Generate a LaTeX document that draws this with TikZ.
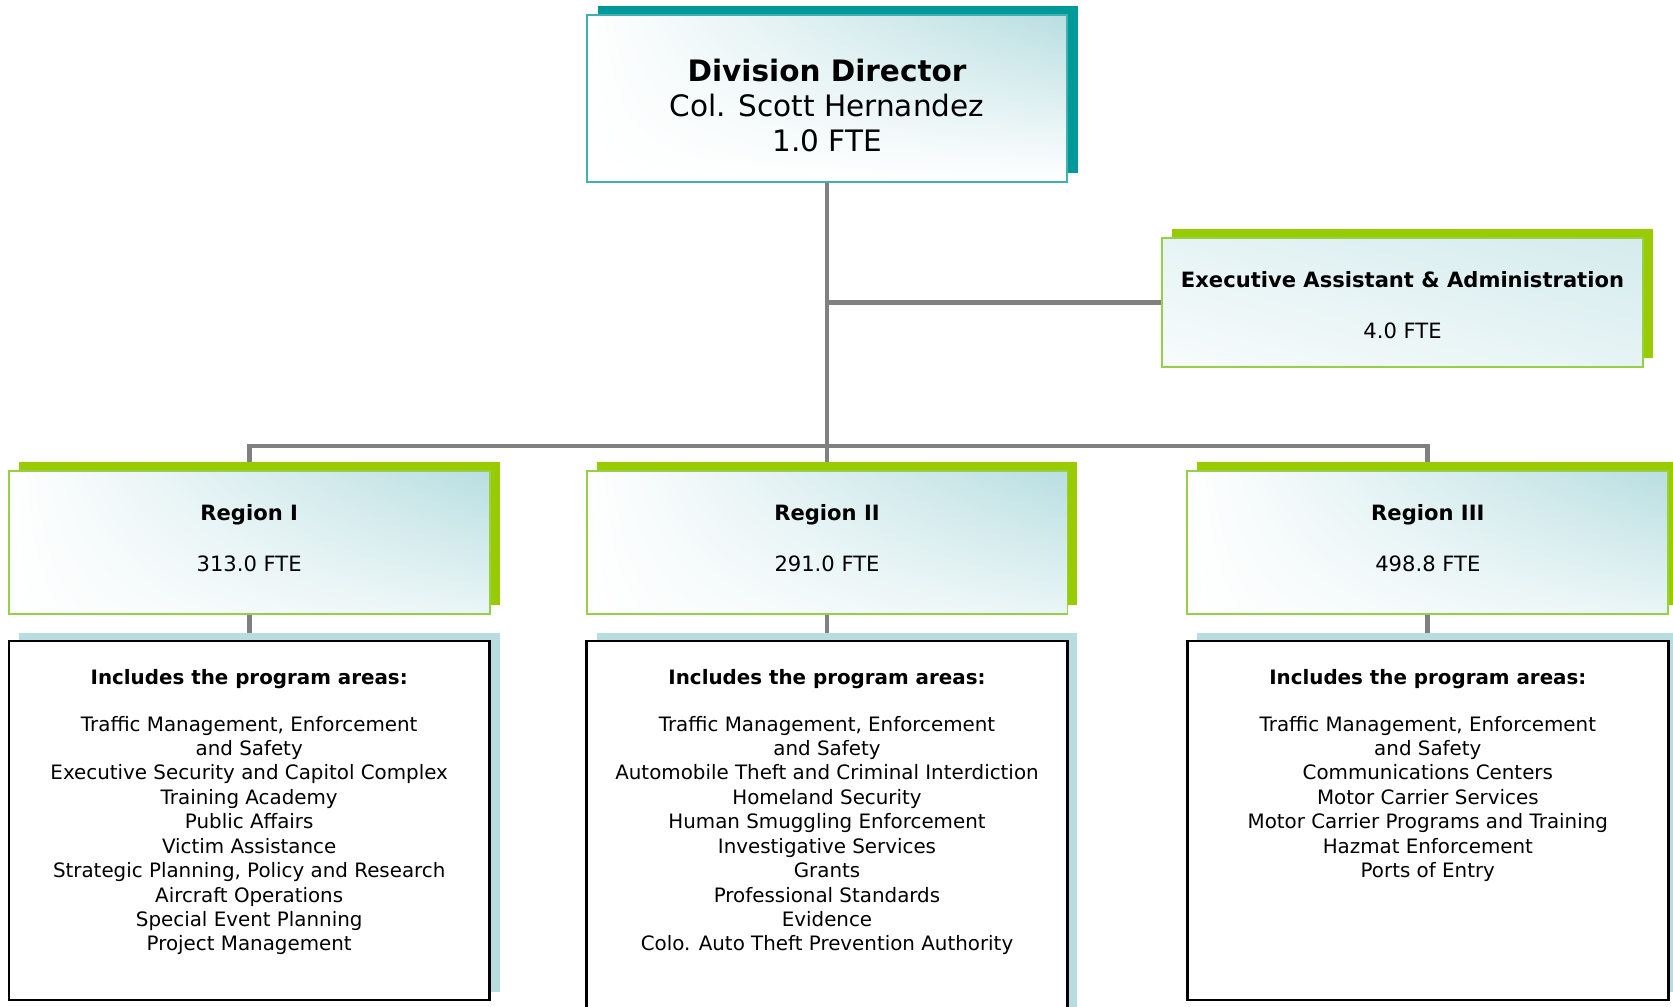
\documentclass[tikz,border=0pt]{standalone}
\usepackage{fontspec}
\setmainfont{DejaVu Sans}
\usepackage{xcolor}
\usetikzlibrary{positioning,shadows,shadings,backgrounds}

\definecolor{darkteal}{RGB}{0,153,153}
\definecolor{lightteal}{RGB}{64,176,176}
\definecolor{palecyan}{RGB}{184,222,225}
\definecolor{limegreen}{RGB}{153,204,0}
\definecolor{softgreen}{RGB}{150,208,70}
\definecolor{paleblue}{RGB}{184,221,224}
\definecolor{linegray}{RGB}{128,128,128}

\newcommand{\lowstrut}{\rule[-5pt]{0pt}{5pt}}

\begin{document}
\begin{tikzpicture}[
    x=0.02cm, y=-0.02cm,
    node distance=1cm,
    tealshadow/.style={general shadow={shadow xshift=0.22cm, shadow yshift=0.18cm, fill=darkteal}},
    greenshadow/.style={general shadow={shadow xshift=0.2cm, shadow yshift=0.18cm, fill=limegreen}},
    blueshadow/.style={general shadow={shadow xshift=0.2cm, shadow yshift=0.16cm, fill=paleblue}},
    director/.style={rectangle, draw=lightteal, line width=1.1pt, tealshadow,
        upper left=white, upper right=palecyan, lower left=white, lower right=white,
        minimum width=9.6cm, minimum height=3.34cm, align=center, font=\fontsize{16.8}{20}\selectfont},
    regionbox/.style={rectangle, draw=softgreen, line width=1.1pt, greenshadow,
        upper left=white, upper right=palecyan, lower left=white, lower right=palecyan!30,
        minimum width=9.62cm, minimum height=2.86cm, align=center, font=\fontsize{12}{14.4}\selectfont},
    execbox/.style={regionbox, upper left=palecyan!35, upper right=palecyan!60, lower left=palecyan!10, lower right=palecyan!35,
        minimum height=2.58cm},
    areabox/.style={rectangle, draw=black, line width=1.4pt, fill=white, blueshadow,
        minimum width=9.62cm, minimum height=7.18cm},
    areatext/.style={align=center, inner sep=0pt, font=\fontsize{11.3}{13.9}\selectfont},
    conn/.style={draw=linegray, line width=2.8pt}
]
\useasboundingbox (0,0) rectangle (1673,1007);

% Top level
\node[director] (dir) at (827,98.5) {\rule{0pt}{21pt}\textbf{Division Director}\\Col. Scott Hernandez\\1.0 FTE};
\node[execbox] (exec) at (1402.5,302.5) {\rule{0pt}{12pt}\textbf{Executive Assistant \& Administration}\\[14.5pt]4.0 FTE};

% Regions
\node[regionbox] (r2) at (827,542.5) {\textbf{Region II}\\[14.5pt]291.0 FTE\lowstrut};
\node[regionbox, left=1.9cm of r2] (r1) {\textbf{Region I}\\[14.5pt]313.0 FTE\lowstrut};
\node[regionbox, right=2.36cm of r2] (r3) {\textbf{Region III}\\[14.5pt]498.8 FTE\lowstrut};

% Program areas
\node[areabox, below=0.5cm of r1] (p1) {};
\node[areabox, below=0.5cm of r2, minimum height=7.6cm] (p2) {};
\node[areabox, below=0.5cm of r3] (p3) {};

\node[areatext, below=0.58cm of p1.north] (t1) {\textbf{Includes the program areas:}\\[12.7pt]
    Traffic Management, Enforcement\\and Safety\\Executive Security and Capitol Complex\\Training Academy\\
    Public Affairs\\Victim Assistance\\Strategic Planning, Policy and Research\\Aircraft Operations\\
    Special Event Planning\\Project Management};
\node[areatext, below=0.58cm of p2.north] (t2) {\textbf{Includes the program areas:}\\[12.7pt]
    Traffic Management, Enforcement\\and Safety\\Automobile Theft and Criminal Interdiction\\Homeland Security\\
    Human Smuggling Enforcement\\Investigative Services\\Grants\\Professional Standards\\
    Evidence\\Colo. Auto Theft Prevention Authority};
\node[areatext, below=0.58cm of p3.north] (t3) {\textbf{Includes the program areas:}\\[12.7pt]
    Traffic Management, Enforcement\\and Safety\\Communications Centers\\Motor Carrier Services\\
    Motor Carrier Programs and Training\\Hazmat Enforcement\\Ports of Entry};

% Connectors
\begin{scope}[on background layer]
\coordinate (bar) at (827,446);
\draw[conn] (dir.south) -- (bar);
\draw[conn] (dir.south |- exec.west) -- (exec.west);
\draw[conn] (r1.north) |- (bar) -| (r3.north);
\draw[conn] (bar) -- (r2.north);
\draw[conn] (r1.south) -- (p1.north);
\draw[conn] (r2.south) -- (p2.north);
\draw[conn] (r3.south) -- (p3.north);
\end{scope}

\end{tikzpicture}
\end{document}
